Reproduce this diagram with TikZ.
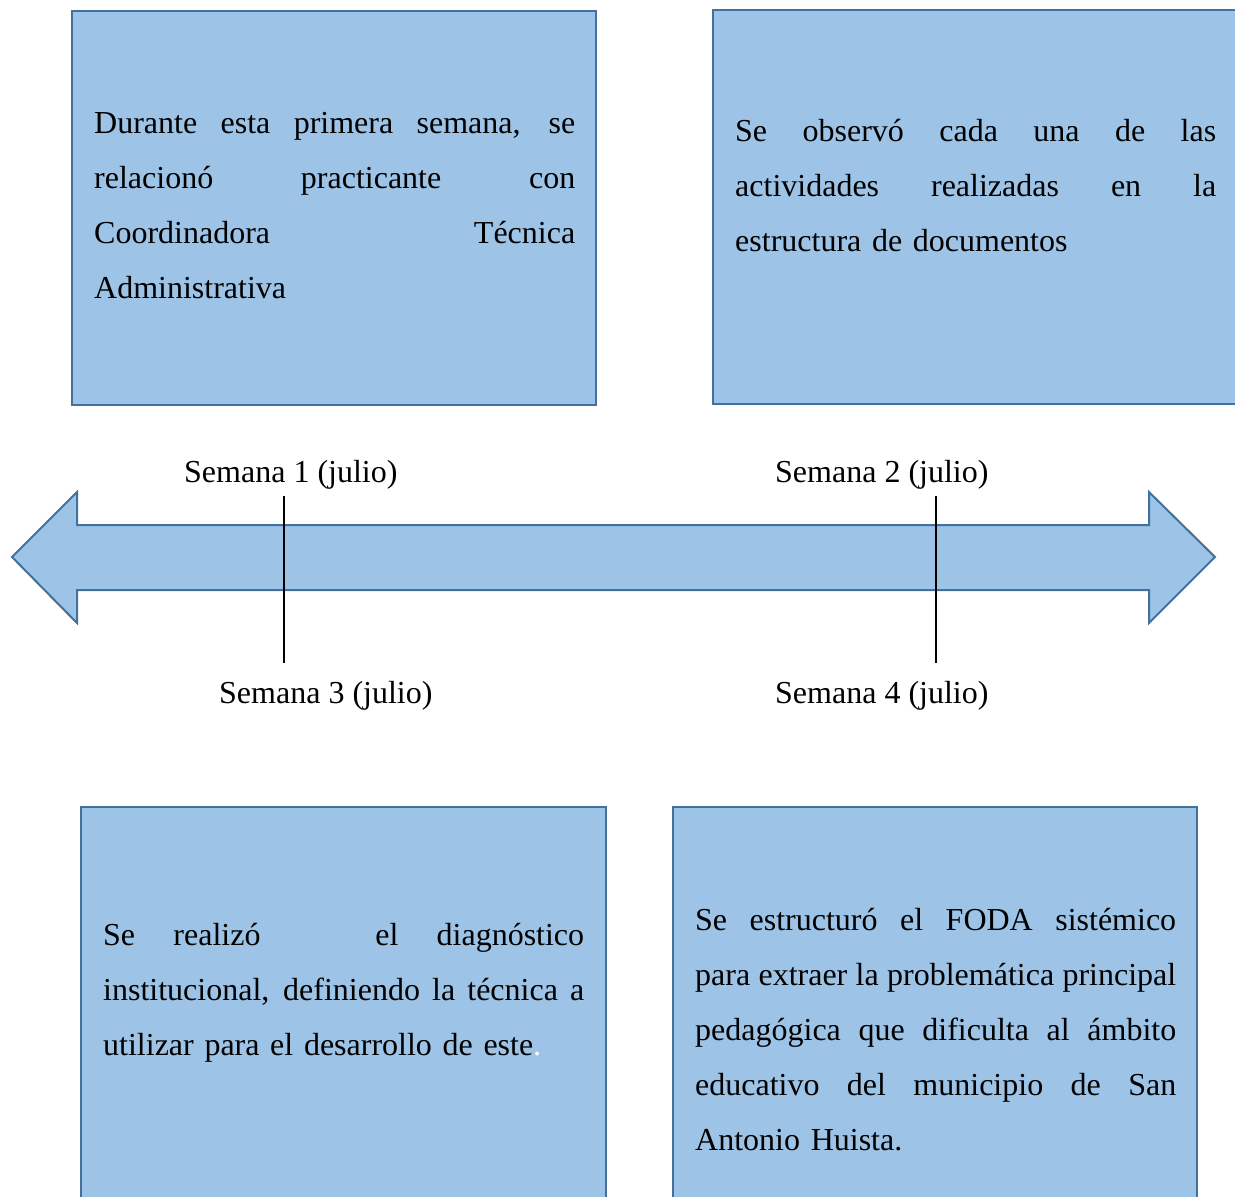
\documentclass[tikz,border=0pt]{standalone}
\usepackage{fontspec}
\setmainfont{Liberation Serif}
\definecolor{boxfill}{HTML}{9DC3E6}
\definecolor{boxline}{HTML}{41719C}
\newcommand{\jl}[1]{\leavevmode\hbox to 481pt{\spaceskip=5.2pt plus 1fil minus 2pt\relax\xspaceskip=\spaceskip #1}}
\begin{document}
\begin{tikzpicture}[x=1pt,y=-1pt,
  panel/.style={fill=boxfill,draw=boxline,line width=2.2pt},
  boxtext/.style={anchor=base west,inner sep=0pt,text width=481pt,align=left,
    font={\fontsize{32}{55}\selectfont\spaceskip=5.4pt plus 2pt minus 1pt\relax\xspaceskip=\spaceskip}},
  weeklabel/.style={anchor=base west,inner sep=0pt,font={\fontsize{32}{38}\selectfont}},
  tick/.style={draw=black,line width=1.1pt}]
\useasboundingbox[fill=white] (0,0) rectangle (1235,1197);
% boxes
\draw[panel] (72,11) rectangle (596,405);
\draw[panel] (713,10) rectangle (1260,404);
\draw[panel] (81,807) rectangle (606,1230);
\draw[panel] (673,807) rectangle (1197,1230);
% box texts
\node[boxtext] (t1) at (94,133) {\jl{Durante esta primera semana, se}\\
\jl{relacionó practicante con}\\
\jl{Coordinadora Técnica}\\
Administrativa};
\node[boxtext] (t2) at (735,141) {\jl{Se observó cada una de las}\\
\jl{actividades realizadas en la}\\
estructura de documentos};
\node[boxtext] (t3) at (103,945) {\jl{Se realizó\ \ \ el diagnóstico}\\
\jl{institucional, definiendo la técnica a}\\
utilizar para el desarrollo de este\textcolor{white}{.}};
\node[boxtext] (t4) at (695,930) {\jl{Se estructuró el FODA sistémico}\\
\jl{para extraer la problemática principal}\\
\jl{pedagógica que dificulta al ámbito}\\
\jl{educativo del municipio de San}\\
Antonio Huista.};
% double arrow
\draw[panel,line width=2pt,line join=miter] (12,557) -- (77,492) -- (77,525) -- (1149,525) -- (1149,492)
  -- (1215,557) -- (1149,623) -- (1149,590) -- (77,590) -- (77,623) -- cycle;
% labels
\node[weeklabel] (w1) at (184,482) {Semana 1 (julio)};
\node[weeklabel] (w2) at (775,482) {Semana 2 (julio)};
\node[weeklabel] (w3) at (219,703) {Semana 3 (julio)};
\node[weeklabel] (w4) at (775,703) {Semana 4 (julio)};
% ticks
\coordinate (a1) at (284,496); \coordinate (a2) at (284,663);
\coordinate (b1) at (936,496); \coordinate (b2) at (936,663);
\draw[tick] (a1) -- (a2);
\draw[tick] (b1) -- (b2);
\end{tikzpicture}
\end{document}
